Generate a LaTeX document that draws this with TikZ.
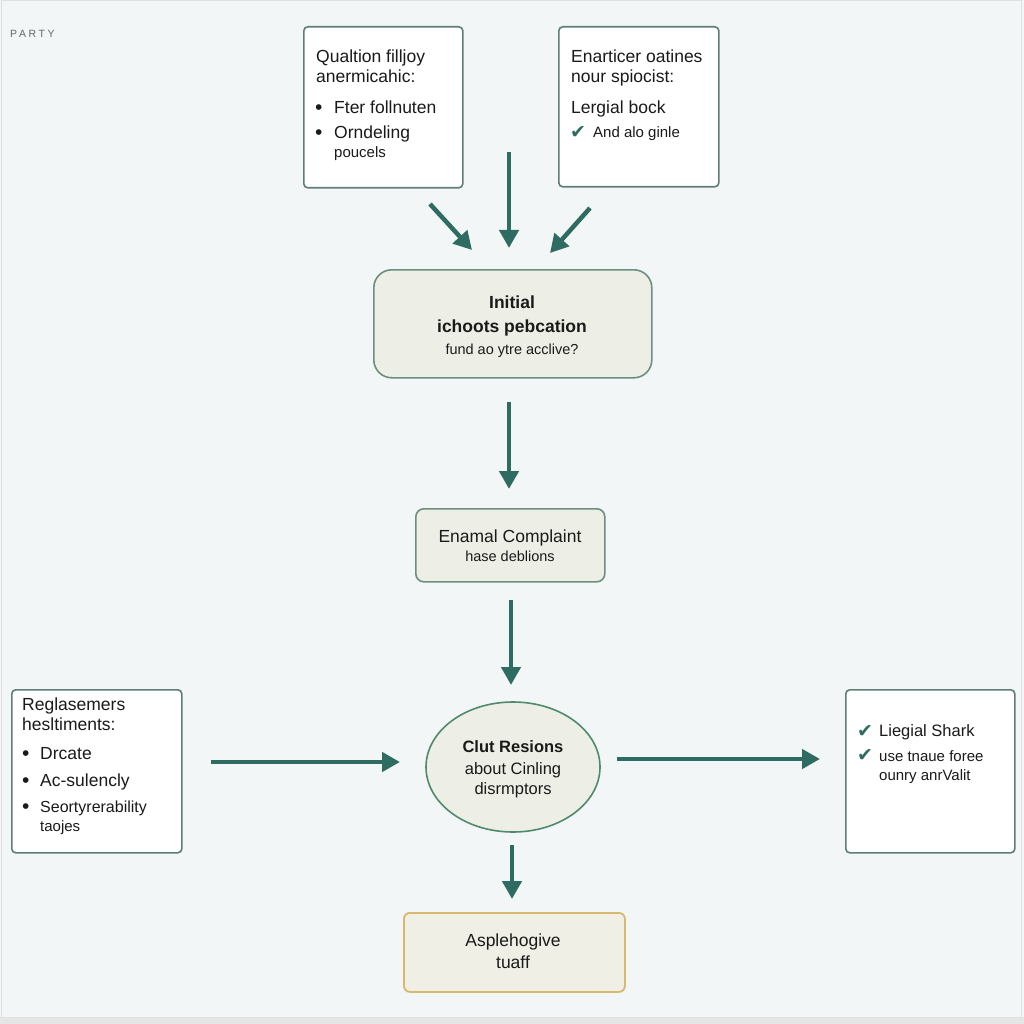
\documentclass[tikz,border=0pt]{standalone}
\usepackage{fontspec}
\setmainfont{Liberation Sans}
\newfontfamily\symfont{DejaVu Sans}
\usetikzlibrary{arrows.meta,shapes.geometric}
\definecolor{bgc}{HTML}{F3F6F6}
\definecolor{arrc}{HTML}{2E6B60}
\definecolor{boxb}{HTML}{5E7E77}
\definecolor{greenf}{HTML}{EDEFE6}
\definecolor{greenb}{HTML}{6C8F7F}
\definecolor{ellb}{HTML}{4E8A6C}
\definecolor{goldb}{HTML}{D8B86C}
\definecolor{goldf}{HTML}{EFEFE6}
\definecolor{txt}{HTML}{1A1A1A}
\newcommand\myfs[1]{\fontsize{#1}{#1}\selectfont}
\newcommand\chk{{\symfont\color{arrc}✔}}
\tikzset{
  whitebox/.style={draw=boxb,line width=1.6pt,fill=white,rounded corners=4pt},
  greenbox/.style={draw=greenb,line width=1.6pt,fill=greenf},
  lt/.style={anchor=base west,inner sep=0pt,text=txt,font=\myfs{17.5}},
  ltsm/.style={anchor=base west,inner sep=0pt,text=txt,font=\myfs{15}},
  ct/.style={anchor=base,inner sep=0pt,text=txt,font=\myfs{17.5}},
  ctb/.style={anchor=base,inner sep=0pt,text=txt,font=\myfs{17.5}\bfseries},
  ctsm/.style={anchor=base,inner sep=0pt,text=txt,font=\myfs{14.5}},
  bul/.style={anchor=base west,inner sep=0pt,text=txt,font=\myfs{21}},
  chkn/.style={anchor=base west,inner sep=0pt,font=\myfs{19}},
  arr/.style={draw=arrc,line width=4.5pt,-{Triangle[length=18pt,width=19pt]}},
}
\begin{document}
\begin{tikzpicture}[x=1pt,y=-1pt]
\useasboundingbox[fill=bgc] (0,0) rectangle (1024,1024);
\fill[black!10] (0,1017) rectangle (1024,1024);
\draw[draw=black!12,line width=1pt] (1,1) rectangle (1021,1017);
\node[anchor=base west,inner sep=0pt,text=black!60,font=\myfs{10.5}\addfontfeatures{LetterSpace=25}] (party) at (10,38) {PARTY};

% top-left box
\node[whitebox,minimum width=159pt,minimum height=161pt,anchor=north west] (b1) at (303,26) {};
\node[lt] (b1a) at (316,63) {Qualtion filljoy};
\node[lt] (b1b) at (316,83) {anermicahic:};
\node[bul] (b1c) at (315,115) {•};
\node[lt] (b1d) at (334,114) {Fter follnuten};
\node[bul] (b1e) at (315,140) {•};
\node[lt] (b1f) at (334,139) {Orndeling};
\node[ltsm] (b1g) at (334,158) {poucels};

% top-right box
\node[whitebox,minimum width=160pt,minimum height=160pt,anchor=north west] (b2) at (558,26) {};
\node[lt] (b2a) at (571,63) {Enarticer oatines};
\node[lt] (b2b) at (571,83) {nour spiocist:};
\node[lt] (b2c) at (571,114) {Lergial bock};
\node[chkn] (b2d) at (570,139) {\chk};
\node[ltsm] (b2e) at (593,138) {And alo ginle};

% arrows into initial
\coordinate (a1s) at (430,204); \coordinate (a1e) at (472,250);
\coordinate (a2s) at (509,152); \coordinate (a2e) at (509,248);
\coordinate (a3s) at (590,208); \coordinate (a3e) at (550,253);
\draw[arr] (a1s) -- (a1e);
\draw[arr] (a2s) -- (a2e);
\draw[arr] (a3s) -- (a3e);

% initial box
\node[greenbox,rounded corners=18pt,minimum width=278pt,minimum height=108pt,anchor=north west] (init) at (373,269) {};
\node[ctb] (inita) at (512,308) {Initial};
\node[ctb] (initb) at (512,332) {ichoots pebcation};
\node[ctsm] (initc) at (512,354) {fund ao ytre acclive?};

\coordinate (a4s) at (509,402); \coordinate (a4e) at (509,489);
\draw[arr] (a4s) -- (a4e);

% enamal box
\node[greenbox,rounded corners=8pt,minimum width=189pt,minimum height=73pt,anchor=north west] (ena) at (415,508) {};
\node[ct] (enaa) at (510,542) {Enamal Complaint};
\node[ctsm] (enab) at (510,561) {hase deblions};

\coordinate (a5s) at (511,600); \coordinate (a5e) at (511,685);
\draw[arr] (a5s) -- (a5e);

% ellipse
\node[ellipse,draw=ellb,line width=1.6pt,fill=greenf,minimum width=174pt,minimum height=130pt,inner sep=0pt] (ell) at (513,767) {};
\node[ctb,font=\myfs{16.5}\bfseries] (ella) at (513,752) {Clut Resions};
\node[ct,font=\myfs{16.5}] (ellb) at (513,774) {about Cinling};
\node[ct,font=\myfs{16.5}] (ellc) at (513,794) {disrmptors};

% left box
\node[whitebox,minimum width=170pt,minimum height=163pt,anchor=north west] (lb) at (11,689) {};
\node[lt] (lba) at (22,710) {Reglasemers};
\node[lt] (lbb) at (22,730) {hesltiments:};
\node[bul] (lbc) at (22,760) {•};
\node[lt] (lbd) at (40,759) {Drcate};
\node[bul] (lbe) at (22,787) {•};
\node[lt] (lbf) at (40,786) {Ac-sulencly};
\node[bul] (lbg) at (22,813) {•};
\node[ltsm,font=\myfs{16}] (lbh) at (40,812) {Seortyrerability};
\node[ltsm] (lbi) at (40,831) {taojes};

% right box
\node[whitebox,minimum width=169pt,minimum height=163pt,anchor=north west] (rb) at (845,689) {};
\node[chkn] (rba) at (857,737) {\chk};
\node[lt,font=\myfs{16.5}] (rbb) at (879,736) {Liegial Shark};
\node[chkn] (rbc) at (857,761) {\chk};
\node[ltsm] (rbd) at (879,761) {use tnaue foree};
\node[ltsm] (rbe) at (879,780) {ounry anrValit};

\coordinate (a6s) at (211,762); \coordinate (a6e) at (400,762);
\draw[arr] (a6s) -- (a6e);
\coordinate (a7s) at (617,759); \coordinate (a7e) at (820,759);
\draw[arr] (a7s) -- (a7e);
\coordinate (a8s) at (512,845); \coordinate (a8e) at (512,899);
\draw[arr] (a8s) -- (a8e);

% bottom box
\node[draw=goldb,line width=1.8pt,fill=goldf,rounded corners=6pt,minimum width=221pt,minimum height=79pt,anchor=north west] (bot) at (403,912) {};
\node[ct] (bota) at (513,946) {Asplehogive};
\node[ct] (botb) at (513,968) {tuaff};
\end{tikzpicture}
\end{document}
